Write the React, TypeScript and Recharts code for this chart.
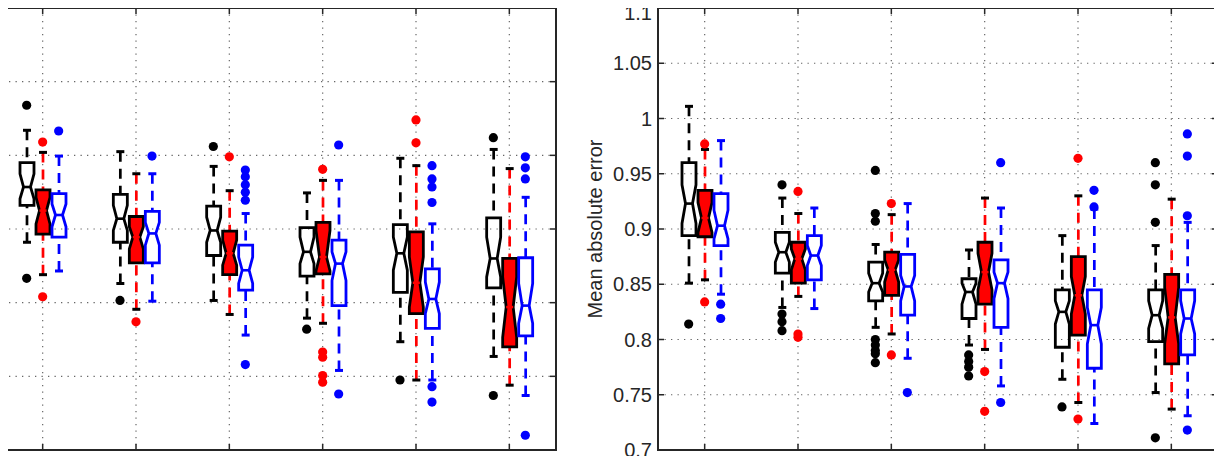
import React from 'react';
import {
  Bar,
  CartesianGrid,
  ComposedChart,
  Label,
  ReferenceArea,
  Scatter,
  XAxis,
  YAxis,
} from 'recharts';

const SIZES = [50, 100, 150, 200, 250, 300];

// each row: [lower whisker, q1, notch low, median, notch high, q3, upper whisker]
const leftBlack = [
  [1.182, 1.232, 1.241, 1.257, 1.275, 1.29, 1.334],
  [1.126, 1.182, 1.198, 1.214, 1.232, 1.247, 1.305],
  [1.103, 1.164, 1.182, 1.198, 1.216, 1.231, 1.285],
  [1.079, 1.136, 1.153, 1.169, 1.189, 1.202, 1.249],
  [1.047, 1.114, 1.144, 1.167, 1.189, 1.206, 1.296],
  [1.027, 1.12, 1.135, 1.16, 1.189, 1.215, 1.308],
];
const leftRed = [
  [1.138, 1.193, 1.207, 1.225, 1.243, 1.253, 1.304],
  [1.091, 1.154, 1.173, 1.189, 1.203, 1.217, 1.275],
  [1.084, 1.138, 1.151, 1.167, 1.185, 1.197, 1.252],
  [1.072, 1.139, 1.143, 1.162, 1.198, 1.209, 1.266],
  [0.995, 1.085, 1.094, 1.127, 1.162, 1.196, 1.286],
  [0.988, 1.04, 1.053, 1.094, 1.135, 1.16, 1.282],
];
const leftBlue = [
  [1.143, 1.189, 1.203, 1.219, 1.234, 1.248, 1.299],
  [1.102, 1.154, 1.178, 1.194, 1.209, 1.224, 1.275],
  [1.056, 1.117, 1.126, 1.144, 1.162, 1.178, 1.221],
  [1.008, 1.096, 1.13, 1.153, 1.169, 1.185, 1.266],
  [0.995, 1.065, 1.085, 1.105, 1.128, 1.146, 1.207],
  [0.974, 1.055, 1.072, 1.096, 1.126, 1.161, 1.243],
];
const leftBlackOut = [[1.368, 1.133], [1.103], [1.312], [1.064], [0.995], [1.324, 0.974]];
const leftRedOut = [[1.318, 1.108], [1.074], [1.298], [1.281, 1.033, 1.026, 1.001, 0.992], [1.348, 1.317], []];
const leftBlueOut = [
  [1.333],
  [1.299],
  [1.28, 1.271, 1.26, 1.25, 1.239, 1.016],
  [1.314, 0.976],
  [1.286, 1.268, 1.257, 1.236, 0.986, 0.965],
  [1.298, 1.283, 1.268, 0.92],
];

const maeBlack = [
  [0.851, 0.894, 0.905, 0.923, 0.94, 0.96, 1.011],
  [0.829, 0.86, 0.87, 0.879, 0.888, 0.897, 0.928],
  [0.811, 0.835, 0.843, 0.851, 0.86, 0.87, 0.886],
  [0.795, 0.819, 0.832, 0.843, 0.851, 0.855, 0.881],
  [0.764, 0.793, 0.814, 0.825, 0.835, 0.845, 0.894],
  [0.752, 0.798, 0.81, 0.822, 0.835, 0.845, 0.885],
];
const maeRed = [
  [0.854, 0.893, 0.897, 0.91, 0.924, 0.935, 0.972],
  [0.839, 0.851, 0.863, 0.873, 0.882, 0.888, 0.914],
  [0.805, 0.84, 0.852, 0.863, 0.872, 0.879, 0.913],
  [0.791, 0.832, 0.845, 0.861, 0.878, 0.888, 0.928],
  [0.743, 0.804, 0.823, 0.84, 0.857, 0.875, 0.93],
  [0.737, 0.778, 0.796, 0.82, 0.847, 0.859, 0.927],
];
const maeBlue = [
  [0.841, 0.885, 0.891, 0.903, 0.917, 0.932, 0.98],
  [0.828, 0.854, 0.867, 0.876, 0.885, 0.894, 0.919],
  [0.783, 0.822, 0.835, 0.848, 0.858, 0.877, 0.923],
  [0.758, 0.811, 0.837, 0.851, 0.861, 0.872, 0.919],
  [0.724, 0.774, 0.796, 0.813, 0.829, 0.845, 0.918],
  [0.731, 0.786, 0.805, 0.819, 0.835, 0.845, 0.906],
];
const maeBlackOut = [
  [0.814],
  [0.94, 0.823, 0.816, 0.808],
  [0.953, 0.914, 0.907, 0.8, 0.795, 0.79, 0.787, 0.779],
  [0.786, 0.78, 0.775, 0.767],
  [0.739],
  [0.96, 0.94, 0.906, 0.711],
];
const maeRedOut = [[0.977, 0.834], [0.934, 0.805, 0.802], [0.923, 0.786], [0.771, 0.735], [0.964, 0.728], []];
const maeBlueOut = [[0.832, 0.819], [], [0.752], [0.96, 0.743], [0.935, 0.92], [0.986, 0.966, 0.912, 0.718]];

const LEFT_TICKS = [0.9, 1, 1.1, 1.2, 1.3, 1.4, 1.5];
const MAE_TICKS = [0.7, 0.75, 0.8, 0.85, 0.9, 0.95, 1, 1.05, 1.1];

interface Look {
  stroke: string;
  fill: string;
  whisker: string;
  cap: string;
  median: string;
  dot: string;
}

const LOOKS: Record<string, Look> = {
  black: { stroke: '#000', fill: 'none', whisker: '#000', cap: '#000', median: '#000', dot: '#000' },
  red: { stroke: '#000', fill: '#ff0000', whisker: '#ff0000', cap: '#000', median: '#ff0000', dot: '#ff0000' },
  blue: { stroke: '#0000ff', fill: 'none', whisker: '#0000ff', cap: '#0000ff', median: '#0000ff', dot: '#0000ff' },
};

// x shift of each group's outliers, in axis units (16px at this scale)
const SHIFT = 8.57;

interface Method {
  key: string;
  stats: number[][];
  outliers: number[][];
  shift: number;
}

const INK = '#262626';
const TICK_LEN = 6;

function NotchedBox(props: any) {
  const { x, y, width, height, payload, method, look } = props;
  const s = payload[method];
  if (!s || !height) return null;
  const k = height / (s.q3 - s.q1);
  const py = (v: number) => y + (s.q3 - v) * k;
  const cx = x + width / 2;
  const hw = width / 2;
  const yHi = py(s.hi);
  const yQ3 = py(s.q3);
  const yNHi = py(s.nHi);
  const yMed = py(s.med);
  const yNLo = py(s.nLo);
  const yQ1 = py(s.q1);
  const yLo = py(s.lo);
  const outline = [
    [cx - hw, yQ3],
    [cx + hw, yQ3],
    [cx + hw, yNHi],
    [cx + hw / 2, yMed],
    [cx + hw, yNLo],
    [cx + hw, yQ1],
    [cx - hw, yQ1],
    [cx - hw, yNLo],
    [cx - hw / 2, yMed],
    [cx - hw, yNHi],
  ]
    .map((p) => p.join(','))
    .join(' ');
  return (
    <g>
      <line x1={cx} y1={yHi} x2={cx} y2={yQ3} stroke={look.whisker} strokeWidth={2.7} strokeDasharray="10 7" />
      <line x1={cx} y1={yLo} x2={cx} y2={yQ1} stroke={look.whisker} strokeWidth={2.7} strokeDasharray="10 7" />
      <line x1={cx - 4} y1={yHi} x2={cx + 4} y2={yHi} stroke={look.cap} strokeWidth={3} />
      <line x1={cx - 4} y1={yLo} x2={cx + 4} y2={yLo} stroke={look.cap} strokeWidth={3} />
      <polygon points={outline} fill={look.fill} stroke={look.stroke} strokeWidth={2.8} />
      <line x1={cx - hw / 2} y1={yMed} x2={cx + hw / 2} y2={yMed} stroke={look.median} strokeWidth={2.6} />
    </g>
  );
}

// short inward tick marks on all four sides of the frame
const ticksOnVertical = (p: any) => (
  <g key={p.key ?? `tv-${p.index}`}>
    <line x1={p.x1} y1={p.y1} x2={p.x1} y2={p.y1 + TICK_LEN} stroke={INK} strokeWidth={1.5} />
    <line x1={p.x1} y1={p.y2} x2={p.x1} y2={p.y2 - TICK_LEN} stroke={INK} strokeWidth={1.5} />
  </g>
);
const ticksOnHorizontal = (p: any) => (
  <g key={p.key ?? `th-${p.index}`}>
    <line x1={p.x1} y1={p.y1} x2={p.x1 + TICK_LEN} y2={p.y1} stroke={INK} strokeWidth={1.5} />
    <line x1={p.x2} y1={p.y1} x2={p.x2 - TICK_LEN} y2={p.y1} stroke={INK} strokeWidth={1.5} />
  </g>
);

// y tick label; the top one is nudged down so it stays inside the page
const YTickLabel = (p: any) => (
  <text x={p.x} y={Math.max(p.y, 13)} dy="0.355em" textAnchor="end" fill={INK} fontSize={20}>
    {p.payload.value}
  </text>
);

function buildRows(methods: Method[]) {
  return SIZES.map((n, i) => {
    const row: any = { n };
    methods.forEach((m) => {
      const [lo, q1, nLo, med, nHi, q3, hi] = m.stats[i];
      row[m.key] = { lo, q1, nLo, med, nHi, q3, hi };
      row[m.key + 'Box'] = [q1, q3];
    });
    return row;
  });
}

function outlierPoints(m: Method) {
  const pts: { n: number; v: number }[] = [];
  m.outliers.forEach((list, i) => list.forEach((v) => pts.push({ n: SIZES[i] + m.shift, v })));
  return pts;
}

interface PanelProps {
  left: number;
  domain: [number, number];
  yTicks: number[];
  methods: Method[];
  title?: string;
}

function Panel({ left, domain, yTicks, methods, title }: PanelProps) {
  const rows = buildRows(methods);
  return (
    <div style={{ position: 'absolute', left, top: 0 }}>
      <ComposedChart
        width={652}
        height={464}
        data={rows}
        margin={{ top: 8, right: 4, bottom: 0, left: 0 }}
        barSize={14}
        barGap={2}
      >
        <CartesianGrid stroke="#666" strokeWidth={1.2} strokeDasharray="1.3 5.2" />
        <CartesianGrid horizontal={ticksOnHorizontal} vertical={ticksOnVertical} />
        <XAxis
          dataKey="n"
          type="number"
          domain={[25, 325]}
          ticks={SIZES}
          interval={0}
          height={14}
          axisLine={false}
          tickLine={false}
          tickSize={0}
          tickMargin={8.5}
          tick={{ fill: INK, fontSize: 20 }}
          allowDataOverflow
        />
        <XAxis xAxisId="pts" dataKey="n" type="number" domain={[25, 325]} hide allowDataOverflow />
        <YAxis
          type="number"
          domain={domain}
          ticks={yTicks}
          interval={0}
          width={88}
          axisLine={false}
          tickLine={false}
          tickSize={0}
          tickMargin={6}
          tick={<YTickLabel />}
          allowDataOverflow
        >
          {title && (
            <Label value={title} angle={-90} position="center" dx={-19} style={{ fontSize: 20, fill: INK }} />
          )}
        </YAxis>
        <ReferenceArea
          x1={25}
          x2={325}
          y1={domain[0]}
          y2={domain[1]}
          fill="none"
          stroke={INK}
          strokeWidth={2}
          ifOverflow="visible"
        />
        {methods.map((m) => (
          <Bar
            key={m.key}
            dataKey={m.key + 'Box'}
            isAnimationActive={false}
            shape={(p: any) => <NotchedBox {...p} method={m.key} look={LOOKS[m.key]} />}
          />
        ))}
        {methods.map((m) => (
          <Scatter
            key={m.key + '-out'}
            xAxisId="pts"
            data={outlierPoints(m)}
            dataKey="v"
            isAnimationActive={false}
            shape={(p: any) => <circle cx={p.cx} cy={p.cy} r={4.6} fill={LOOKS[m.key].dot} />}
          />
        ))}
      </ComposedChart>
    </div>
  );
}

const leftMethods: Method[] = [
  { key: 'black', stats: leftBlack, outliers: leftBlackOut, shift: -SHIFT },
  { key: 'red', stats: leftRed, outliers: leftRedOut, shift: 0 },
  { key: 'blue', stats: leftBlue, outliers: leftBlueOut, shift: SHIFT },
];
const maeMethods: Method[] = [
  { key: 'black', stats: maeBlack, outliers: maeBlackOut, shift: -SHIFT },
  { key: 'red', stats: maeRed, outliers: maeRedOut, shift: 0 },
  { key: 'blue', stats: maeBlue, outliers: maeBlueOut, shift: SHIFT },
];

export default function App() {
  return (
    <div
      style={{
        position: 'relative',
        width: 1222,
        height: 464,
        margin: -8,
        overflow: 'hidden',
        background: '#fff',
        fontFamily: "'Liberation Sans', Arial, Helvetica, sans-serif",
      }}
    >
      <Panel left={-92} domain={[0.9, 1.5]} yTicks={LEFT_TICKS} methods={leftMethods} />
      <Panel left={570} domain={[0.7, 1.1]} yTicks={MAE_TICKS} methods={maeMethods} title="Mean absolute error" />
    </div>
  );
}
